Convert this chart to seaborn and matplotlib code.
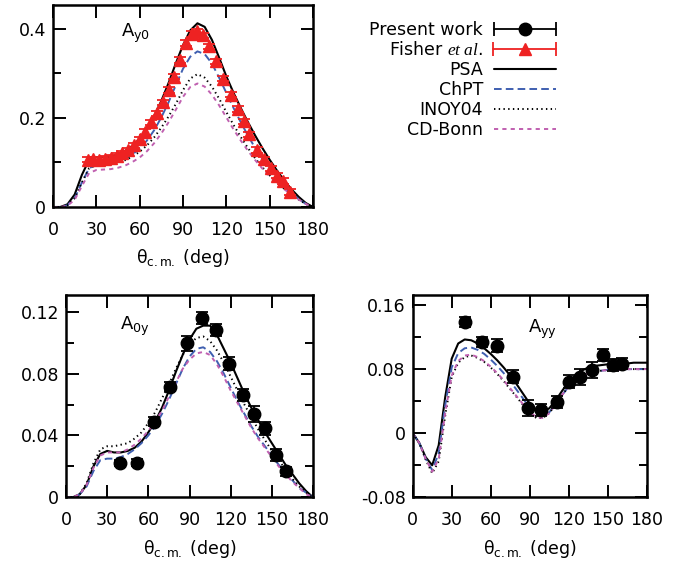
import numpy as np
import pandas as pd
import matplotlib
matplotlib.use("Agg")
import matplotlib.pyplot as plt
from matplotlib.lines import Line2D
from matplotlib.ticker import FuncFormatter
from matplotlib.legend_handler import HandlerLine2D, HandlerTuple
import seaborn as sns

# theory grid (deg)
theta = list(range(0, 181, 5))

# ---- A_y0 ----
ay0_psa = [0, 0.0, 0.006, 0.028, 0.072, 0.106, 0.112, 0.112, 0.113, 0.118, 0.126, 0.137, 0.153,
           0.176, 0.204, 0.238, 0.278, 0.322, 0.363, 0.396, 0.412, 0.404, 0.375, 0.335, 0.293,
           0.256, 0.222, 0.19, 0.16, 0.132, 0.106, 0.082, 0.06, 0.04, 0.023, 0.009, 0.0]
ay0_chpt = [0, 0.0, 0.004, 0.02, 0.055, 0.087, 0.095, 0.097, 0.098, 0.102, 0.108, 0.118, 0.131,
            0.149, 0.172, 0.201, 0.235, 0.273, 0.31, 0.337, 0.349, 0.343, 0.322, 0.29, 0.256,
            0.222, 0.19, 0.16, 0.132, 0.107, 0.085, 0.065, 0.047, 0.032, 0.018, 0.007, 0.0]
ay0_inoy = [0, 0.0, 0.004, 0.02, 0.055, 0.087, 0.094, 0.096, 0.097, 0.1, 0.105, 0.113, 0.124,
            0.138, 0.156, 0.178, 0.203, 0.231, 0.262, 0.288, 0.298, 0.29, 0.27, 0.243, 0.213,
            0.184, 0.157, 0.132, 0.109, 0.089, 0.071, 0.055, 0.041, 0.028, 0.017, 0.007, 0.0]
ay0_cdb = [0, 0.0, 0.003, 0.016, 0.047, 0.076, 0.083, 0.084, 0.085, 0.088, 0.093, 0.101, 0.111,
           0.125, 0.143, 0.165, 0.19, 0.218, 0.247, 0.269, 0.277, 0.27, 0.252, 0.228, 0.201,
           0.174, 0.149, 0.126, 0.105, 0.086, 0.069, 0.054, 0.04, 0.028, 0.017, 0.007, 0.0]

fisher_ang = [24, 28, 32, 36, 40, 44, 48, 52, 56, 60, 64, 68, 72, 76, 80, 84, 88, 92, 96, 100,
              104, 108, 113, 118, 123, 128, 132, 136, 141, 146, 151, 155, 159, 164]
fisher_val = [0.106, 0.107, 0.106, 0.108, 0.111, 0.115, 0.12, 0.127, 0.138, 0.152, 0.168, 0.19,
              0.21, 0.235, 0.262, 0.292, 0.33, 0.368, 0.388, 0.394, 0.385, 0.36, 0.327, 0.288,
              0.252, 0.22, 0.192, 0.163, 0.128, 0.107, 0.087, 0.07, 0.058, 0.034]
fisher_err = [0.006] * len(fisher_ang)

# ---- A_0y ----
a0y_psa = [0, 0.0, 0.002, 0.008, 0.02, 0.028, 0.03, 0.029, 0.029, 0.03, 0.032, 0.036, 0.042,
           0.049, 0.058, 0.069, 0.081, 0.092, 0.102, 0.109, 0.111, 0.111, 0.105, 0.096, 0.087,
           0.077, 0.067, 0.058, 0.05, 0.042, 0.035, 0.028, 0.021, 0.015, 0.009, 0.004, 0.0]
a0y_chpt = [0, 0.0, 0.002, 0.007, 0.017, 0.024, 0.025, 0.025, 0.026, 0.028, 0.031, 0.035, 0.04,
            0.046, 0.054, 0.063, 0.073, 0.083, 0.091, 0.096, 0.097, 0.094, 0.088, 0.08, 0.071,
            0.062, 0.054, 0.046, 0.039, 0.033, 0.027, 0.021, 0.016, 0.011, 0.006, 0.003, 0.0]
a0y_inoy = [0, 0.0, 0.002, 0.009, 0.022, 0.031, 0.033, 0.033, 0.034, 0.035, 0.038, 0.042, 0.048,
            0.055, 0.064, 0.073, 0.083, 0.092, 0.099, 0.103, 0.104, 0.101, 0.095, 0.087, 0.078,
            0.069, 0.06, 0.052, 0.044, 0.037, 0.03, 0.024, 0.018, 0.012, 0.007, 0.003, 0.0]
a0y_cdb = [0, 0.0, 0.002, 0.008, 0.019, 0.027, 0.029, 0.029, 0.029, 0.031, 0.034, 0.038, 0.043,
           0.049, 0.056, 0.065, 0.074, 0.083, 0.089, 0.093, 0.094, 0.092, 0.086, 0.078, 0.069,
           0.061, 0.053, 0.045, 0.038, 0.032, 0.026, 0.02, 0.015, 0.01, 0.006, 0.002, 0.0]

a0y_ang = [39, 52, 64, 76, 88, 99, 109, 119, 129, 137, 145, 153, 160]
a0y_val = [0.022, 0.0225, 0.049, 0.0715, 0.0995, 0.116, 0.108, 0.0865, 0.066, 0.054, 0.0445,
           0.0272, 0.0168]
a0y_err = [0.002, 0.002, 0.003, 0.003, 0.005, 0.004, 0.004, 0.004, 0.004, 0.005, 0.004, 0.004,
           0.003]

# ---- A_yy ----
ayy_psa = [0, -0.012, -0.03, -0.04, -0.015, 0.045, 0.093, 0.112, 0.117, 0.116, 0.112, 0.106,
           0.099, 0.091, 0.082, 0.072, 0.061, 0.049, 0.037, 0.029, 0.027, 0.031, 0.041, 0.053,
           0.064, 0.072, 0.078, 0.082, 0.084, 0.085, 0.086, 0.087, 0.087, 0.087, 0.088, 0.088,
           0.088]
ayy_chpt = [0, -0.012, -0.032, -0.046, -0.025, 0.035, 0.082, 0.1, 0.106, 0.107, 0.104, 0.099,
            0.092, 0.084, 0.075, 0.065, 0.054, 0.043, 0.032, 0.025, 0.022, 0.026, 0.036, 0.048,
            0.058, 0.066, 0.071, 0.075, 0.077, 0.078, 0.079, 0.079, 0.08, 0.08, 0.08, 0.08, 0.08]
ayy_inoy = [0, -0.012, -0.033, -0.05, -0.035, 0.022, 0.07, 0.088, 0.095, 0.097, 0.094, 0.089,
            0.082, 0.074, 0.065, 0.055, 0.045, 0.035, 0.026, 0.019, 0.019, 0.025, 0.036, 0.048,
            0.058, 0.066, 0.071, 0.075, 0.077, 0.078, 0.079, 0.079, 0.079, 0.08, 0.08, 0.08, 0.08]
ayy_cdb = [0, -0.012, -0.032, -0.048, -0.032, 0.025, 0.072, 0.09, 0.097, 0.098, 0.095, 0.09,
           0.083, 0.075, 0.066, 0.056, 0.046, 0.036, 0.027, 0.02, 0.019, 0.025, 0.036, 0.048,
           0.058, 0.066, 0.071, 0.075, 0.077, 0.078, 0.079, 0.079, 0.079, 0.08, 0.08, 0.08, 0.08]

ayy_ang = [40, 53, 65, 77, 89, 99, 111, 120, 129, 138, 146, 154, 161]
ayy_val = [0.139, 0.114, 0.109, 0.0705, 0.031, 0.029, 0.039, 0.0645, 0.0706, 0.079, 0.0976,
           0.085, 0.087]
ayy_err = [0.006, 0.006, 0.008, 0.008, 0.01, 0.008, 0.008, 0.008, 0.01, 0.01, 0.008, 0.007, 0.007]

# styles
RED = "#ee2222"
BLUE = "#3f5fb0"
PINK = "#c060b0"
styles = {
    "PSA": dict(color="black", lw=1.5, linestyle="-"),
    "ChPT": dict(color=BLUE, lw=1.4, linestyle=(0, (5.5, 3.0))),
    "INOY04": dict(color="black", lw=1.4, linestyle=(0, (1.0, 2.4))),
    "CD-Bonn": dict(color=PINK, lw=1.4, linestyle=(0, (3.0, 3.0))),
}

sns.set_style("ticks")
plt.rcParams["font.family"] = ["DejaVu Sans"]
plt.rcParams["mathtext.fontset"] = "custom"
plt.rcParams["mathtext.rm"] = "DejaVu Sans"
plt.rcParams["mathtext.it"] = "Liberation Serif:italic"
plt.rcParams["axes.unicode_minus"] = False
plt.rcParams["lines.scale_dashes"] = False
for key in ["text.color", "axes.labelcolor", "xtick.color", "ytick.color", "axes.edgecolor"]:
    plt.rcParams[key] = "black"

W, H = 689, 561
fig = plt.figure(figsize=(W / 100, H / 100), dpi=100)


def px_axes(left, right, top, bottom):
    return fig.add_axes([left / W, 1 - bottom / H, (right - left) / W, (bottom - top) / H])


ax1 = px_axes(53, 313, 5, 207)
ax2 = px_axes(66, 313, 295, 497.3)
ax3 = px_axes(412.7, 646.7, 295, 497.3)

panels = [
    (ax1, [ay0_psa, ay0_chpt, ay0_inoy, ay0_cdb], (0, 0.453), [0, 0.2, 0.4], [0.1, 0.3],
     r"$\mathrm{A_{y0}}$", (0.26, 0.86)),
    (ax2, [a0y_psa, a0y_chpt, a0y_inoy, a0y_cdb], (0, 0.1308), [0, 0.04, 0.08, 0.12],
     [0.02, 0.06, 0.10], r"$\mathrm{A_{0y}}$", (0.22, 0.845)),
    (ax3, [ayy_psa, ayy_chpt, ayy_inoy, ayy_cdb], (-0.08, 0.1725), [-0.08, 0, 0.08, 0.16],
     [-0.04, 0.04, 0.12], r"$\mathrm{A_{yy}}$", (0.494, 0.83)),
]

for ax, curves, ylim, majors, minors, name, pos in panels:
    for (lab, st), yv in zip(styles.items(), curves):
        sns.lineplot(x=theta, y=yv, ax=ax, sort=False, **st)
    ax.set_xlim(0, 180)
    ax.set_ylim(*ylim)
    ax.set_xticks(range(0, 181, 30))
    ax.set_yticks(majors)
    ax.set_yticks(minors, minor=True)
    ax.yaxis.set_major_formatter(FuncFormatter(lambda v, p: "%g" % round(v, 4)))
    ax.tick_params(which="both", direction="in", top=True, right=True, width=1.4,
                   colors="black", labelsize=12.5)
    ax.tick_params(which="major", length=9)
    ax.tick_params(which="minor", length=5.5)
    ax.tick_params(axis="x", pad=10)
    ax.tick_params(axis="y", pad=5)
    for sp in ax.spines.values():
        sp.set_linewidth(1.8)
        sp.set_color("black")
    ax.set_xlabel(r"$\mathrm{\theta_{c.m.}}$ (deg)", fontsize=12.5, labelpad=6)
    ax.set_ylabel("")
    ax.text(pos[0], pos[1], name, transform=ax.transAxes, fontsize=13,
            ha="left", va="center")

eb = dict(ls="none", capsize=4.3, elinewidth=1.3, capthick=1.3, zorder=5)
ax1.errorbar(fisher_ang, fisher_val, yerr=fisher_err, fmt="^", color=RED, ms=8.5, **eb)
ax2.errorbar(a0y_ang, a0y_val, yerr=a0y_err, fmt="o", color="black", ms=9, **eb)
ax3.errorbar(ayy_ang, ayy_val, yerr=ayy_err, fmt="o", color="black", ms=9, **eb)

# legend (gnuplot-like error bar keys)
pw_caps = Line2D([], [], color="black", lw=1.3, marker="|", ms=10, mew=1.3)
pw_dot = Line2D([], [], color="black", ls="none", marker="o", ms=9)
fi_caps = Line2D([], [], color=RED, lw=1.3, marker="|", ms=10, mew=1.3)
fi_tri = Line2D([], [], color=RED, ls="none", marker="^", ms=8.5)
line_handles = [Line2D([], [], **st) for st in styles.values()]
handles = [(pw_caps, pw_dot), (fi_caps, fi_tri)] + line_handles
labels = ["Present work", r"Fisher $\mathit{et\ al.}$"] + list(styles.keys())
hmap = {
    pw_caps: HandlerLine2D(numpoints=2, marker_pad=0),
    fi_caps: HandlerLine2D(numpoints=2, marker_pad=0),
    tuple: HandlerTuple(ndivide=1, pad=0),
}
fig.legend(handles, labels, loc="upper right", bbox_to_anchor=(556 / W, 1 - 21 / H),
           markerfirst=False, frameon=False, fontsize=12.5, numpoints=1,
           handlelength=3.6, handletextpad=0.6, labelspacing=0.12, borderpad=0,
           borderaxespad=0, handler_map=hmap)

fig.savefig("out.png", dpi=100)
